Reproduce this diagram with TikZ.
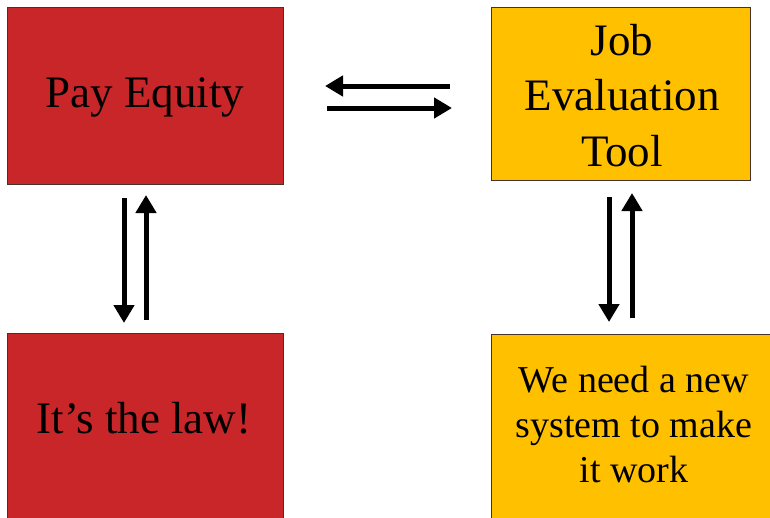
\documentclass[tikz,border=0pt]{standalone}
\usepackage{fontspec}
\setmainfont{Liberation Serif}
\usetikzlibrary{arrows.meta}
\definecolor{boxred}{RGB}{200,38,40}
\definecolor{boxgold}{RGB}{255,192,0}
\definecolor{edgeline}{RGB}{70,50,40}
\begin{document}
\begin{tikzpicture}[x=1pt,y=-1pt,
  panel/.style={draw=edgeline,line width=0.8pt,inner sep=0pt,outer sep=0pt},
  redpanel/.style={panel,fill=boxred},
  goldpanel/.style={panel,fill=boxgold},
  bigtext/.style={font=\fontsize{45}{55.5}\selectfont,align=center,anchor=base,inner sep=0pt},
  smalltext/.style={font=\fontsize{38}{45}\selectfont,align=center,anchor=base,inner sep=0pt},
  flow/.style={-{Triangle[length=18pt,width=20pt]},line width=5pt}
]
\useasboundingbox (0,0) rectangle (770,517);
\begin{scope}
  \clip (0,0) rectangle (770,517);
  % the four panels (the lower two run off the page)
  \node[redpanel, minimum width=276pt, minimum height=177pt] (pay) at (145,95.5) {};
  \node[goldpanel, minimum width=259pt, minimum height=173pt] (job) at (620.5,93.5) {};
  \node[redpanel, minimum width=276pt, minimum height=227pt] (law) at (145,446.5) {};
  \node[goldpanel, minimum width=309pt, minimum height=226pt] (work) at (645.5,447) {};
\end{scope}

% panel texts (multi-line texts sit on the baseline of their last line)
\node[bigtext] (paytext) at (145,107) {Pay Equity};
\node[bigtext] (jobtext) at (622,166) {Job\\Evaluation\\Tool};
\node[bigtext] (lawtext) at (144,433) {It’s the law!};
\node[smalltext] (worktext) at (634,482) {We need a new\\system to make\\it work};

% horizontal pair between the top panels
\draw[flow, shorten <=41pt, shorten >=42pt] ([yshift=7.5pt]job.west) -- ([yshift=7.5pt]job.west -| pay.east);
\draw[flow, shorten <=44pt, shorten >=39pt] ([yshift=-14.5pt]job.west -| pay.east) -- ([yshift=-14.5pt]job.west);

% vertical pair on the left
\draw[flow, shorten <=14pt, shorten >=10pt] ([xshift=-21pt]pay.south) -- ([xshift=-21pt]pay.south |- law.north);
\draw[flow, shorten <=13pt, shorten >=11pt] ([xshift=1pt]pay.south |- law.north) -- ([xshift=1pt]pay.south);

% vertical pair on the right
\draw[flow, shorten <=17pt, shorten >=12pt] ([xshift=-11.5pt]job.south) -- ([xshift=-11.5pt]job.south |- work.north);
\draw[flow, shorten <=16pt, shorten >=13pt] ([xshift=11.5pt]job.south |- work.north) -- ([xshift=11.5pt]job.south);
\end{tikzpicture}
\end{document}
